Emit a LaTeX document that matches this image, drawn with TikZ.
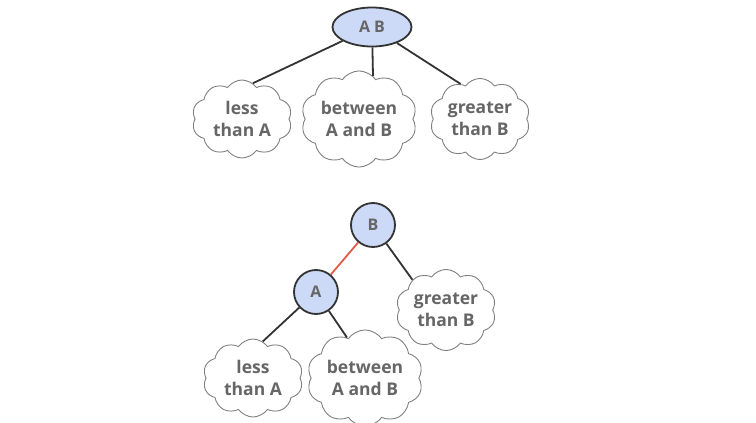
\documentclass[tikz,border=0pt]{standalone}
\usepackage{fontspec}
\setmainfont{Open Sans}
\usetikzlibrary{shapes.symbols,shapes.geometric}
\definecolor{nodefill}{HTML}{CCDAF8}
\definecolor{txt}{HTML}{666666}
\definecolor{edgecol}{HTML}{333333}
\definecolor{cloudline}{HTML}{808080}
\definecolor{redline}{HTML}{E05A45}
\tikzset{
  keynode/.style={draw=edgecol,line width=1.8pt,fill=nodefill,font=\bfseries\fontsize{16}{18}\selectfont,text=txt,inner sep=0pt},
  keycirc/.style={keynode,circle,minimum size=44pt},
  keyell/.style={keynode,ellipse,minimum width=79pt,minimum height=39pt},
  sub/.style={draw=cloudline,fill=white,line width=0.9pt,cloud,cloud puffs=10,cloud puff arc=110,aspect=1.3,minimum width=100pt,minimum height=78pt,inner sep=0pt,align=center,font=\bfseries\fontsize{17.5}{21.5}\selectfont,text=txt},
  edge/.style={draw=edgecol,line width=1.8pt},
  redge/.style={draw=redline,line width=1.8pt}
}
\begin{document}
\begin{tikzpicture}[x=1pt,y=-1pt]
\useasboundingbox (0,0) rectangle (756,423);
\node[keyell] (ab) at (372,27) {A B};
\node[keycirc] (b) at (373,225) {B};
\node[keycirc] (a) at (316,292) {A};
\node[sub] (t1) at (242,119) {less\\than A};
\node[sub] (t2) at (359,119) {between\\A and B};
\node[sub] (t3) at (480,119) {greater\\than B};
\node[sub] (g) at (446,310) {greater\\than B};
\node[sub] (l) at (253,378) {less\\than A};
\node[sub] (m) at (365,378) {between\\A and B};
\draw[edge] (ab) -- (t1.73);
\draw[edge] (ab) -- (t2.72);
\draw[edge] (ab) -- (t3.119);
\draw[redge] (b) -- (a);
\draw[edge] (b) -- (g.138);
\draw[edge] (a) -- (l.75);
\draw[edge] (a) -- (m.114);
\end{tikzpicture}
\end{document}
